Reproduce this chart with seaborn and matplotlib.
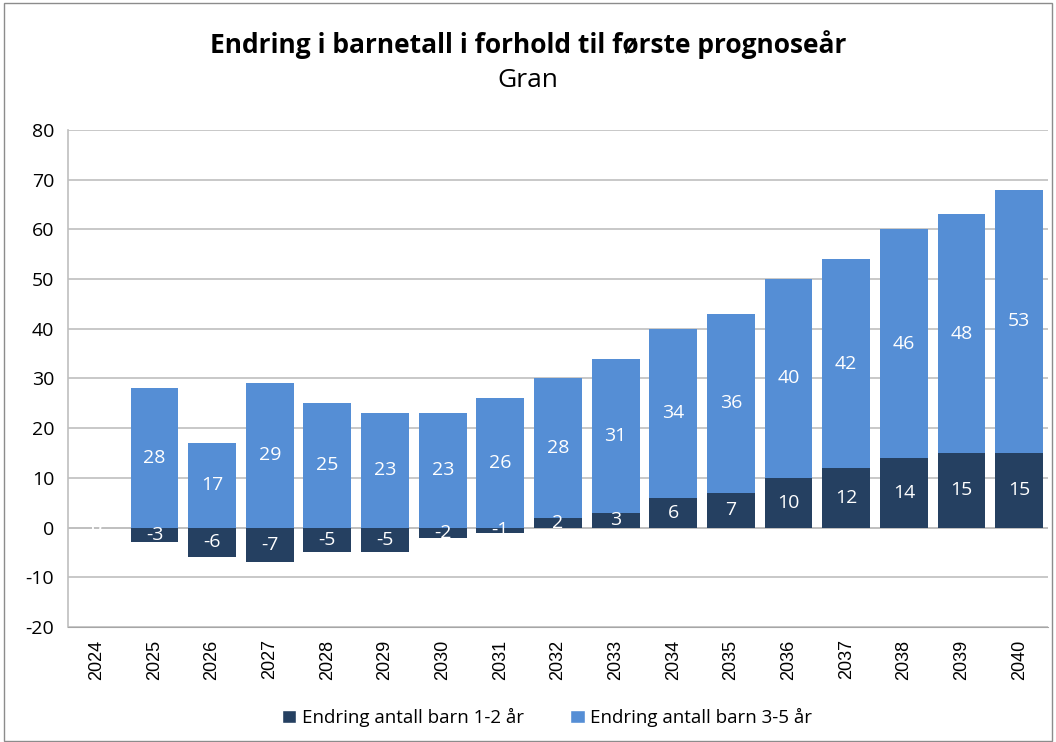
import numpy as np
import pandas as pd
import matplotlib.pyplot as plt
import seaborn as sns
from matplotlib.patches import Patch, Rectangle

years = [str(y) for y in range(2024, 2041)]
barn_1_2 = [0, -3, -6, -7, -5, -5, -2, -1, 2, 3, 6, 7, 10, 12, 14, 15, 15]
barn_3_5 = [0, 28, 17, 29, 25, 23, 23, 26, 28, 31, 34, 36, 40, 42, 46, 48, 53]
series_names = ["Endring antall barn 1-2 år", "Endring antall barn 3-5 år"]

dark = "#254061"
light = "#558ED5"

sns.set_style("white")
plt.rcParams['font.family'] = ['Open Sans', 'DejaVu Sans']
plt.rcParams['text.color'] = 'black'
plt.rcParams['xtick.color'] = 'black'
plt.rcParams['ytick.color'] = 'black'

df = pd.DataFrame({"år": years, "b12": barn_1_2, "b35": barn_3_5})
# light bars sit on top of the positive part of the dark bars
df["topp"] = df["b12"].clip(lower=0) + df["b35"]

fig = plt.figure(figsize=(10.56, 7.42), dpi=100)
ax = fig.add_axes([0.0644, 0.155, 0.928, 0.670])

sns.barplot(data=df, x="år", y="topp", color=light, width=0.83, saturation=1,
            linewidth=0, ax=ax, zorder=2)
sns.barplot(data=df, x="år", y="b12", color=dark, width=0.83, saturation=1,
            linewidth=0, ax=ax, zorder=3)

# data labels
for i, row in df.iterrows():
    ax.text(i, row["b12"] / 2, f"{row['b12']}", ha="center", va="center",
            color="white", fontsize=14, zorder=5)
    ax.text(i, max(row["b12"], 0) + row["b35"] / 2, f"{row['b35']}",
            ha="center", va="center", color="white", fontsize=14, zorder=5)

ax.set_ylim(-20, 80)
ax.set_yticks(range(-20, 81, 10))
ax.set_yticklabels([str(v) for v in range(-20, 81, 10)])
ax.set_xlim(-0.5, len(years) - 0.5)
ax.grid(axis="y", color="#BFBFBF", linewidth=1.2, zorder=0)
ax.set_axisbelow(True)
ax.axhline(0, color="#BFBFBF", linewidth=1.2, zorder=1)
for s in ["top", "right"]:
    ax.spines[s].set_visible(False)
ax.spines["bottom"].set_color("#A6A6A6")
ax.spines["left"].set_color("#BFBFBF")
ax.spines["left"].set_linewidth(1.2)
ax.set_xlabel("")
ax.set_ylabel("")
ax.tick_params(axis="y", length=6, color="#BFBFBF", labelcolor="black",
               labelsize=14, pad=4)
ax.tick_params(axis="x", length=0, labelcolor="black", labelsize=13, pad=9)
plt.setp(ax.get_xticklabels(), rotation=90, family="Liberation Sans")

fig.text(0.5, 0.94, "Endring i barnetall i forhold til første prognoseår",
         ha="center", va="center", fontsize=19, fontweight="bold")
fig.text(0.5, 0.892, "Gran", ha="center", va="center", fontsize=19)

handles = [Patch(facecolor=dark), Patch(facecolor=light)]
fig.legend(handles, series_names, loc="center", bbox_to_anchor=(0.518, 0.033),
           ncol=2, frameon=False, fontsize=13.5, handlelength=0.75,
           handleheight=0.75, handletextpad=0.3, columnspacing=2.5)

fig.patches.append(Rectangle((0.004, 0.002), 0.992, 0.994, transform=fig.transFigure,
                             fill=False, edgecolor="#8C8C8C", linewidth=1))

fig.savefig("out.png", dpi=100)
